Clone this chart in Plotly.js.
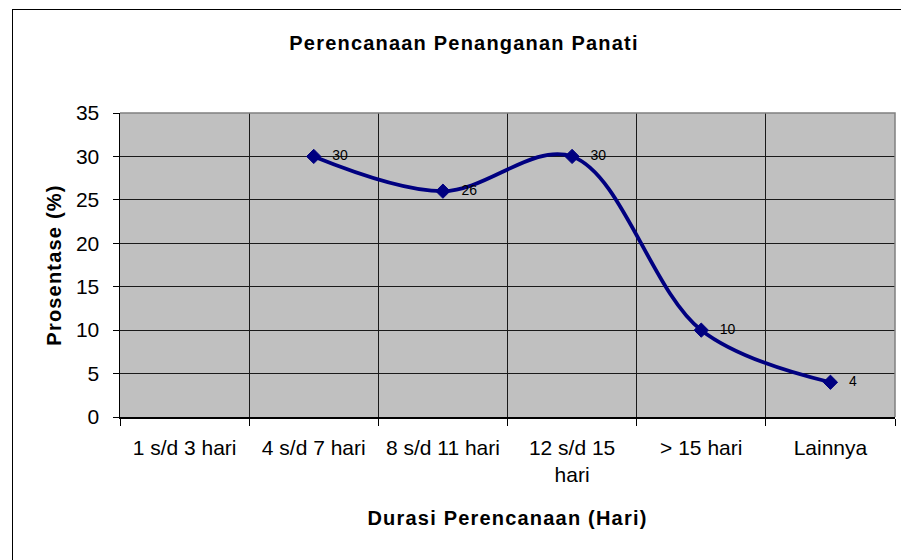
<!DOCTYPE html>
<html>
<head>
<meta charset="utf-8">
<script src="https://cdn.plot.ly/plotly-3.0.1.min.js"></script>
<style>
  html, body { margin: 0; padding: 0; background: #ffffff; }
  #wrap { position: relative; width: 901px; height: 560px; overflow: hidden; background: #ffffff; }
  #frame { position: absolute; left: 12px; top: 9px; width: 1000px; height: 1000px;
           border-top: 1.5px solid #000; border-left: 1.5px solid #000; box-sizing: border-box; }
  #chart { position: absolute; left: 0; top: 0; width: 901px; height: 560px; }
  .gtitle, .xtitle, .ytitle { letter-spacing: 1.2px; }
</style>
</head>
<body>
<div id="wrap">
  <div id="frame"></div>
  <div id="chart"></div>
</div>
<script>
// ---- data ----
const categories = ["1 s/d 3 hari", "4 s/d 7 hari", "8 s/d 11 hari", "12 s/d 15<br>hari", "> 15 hari", "Lainnya"];
const values = [null, 30, 26, 30, 10, 4];
const labels = ["", "30", "26", "30", "10", "4"];
const yTicks = [0, 5, 10, 15, 20, 25, 30, 35];

const chartTitle = "Perencanaan Penanganan Panati";
const xTitle = "Durasi Perencanaan (Hari)";
const yTitle = "Prosentase (%)";

const FONT = "Liberation Sans, Arial, sans-serif";

const lineTrace = {
  type: "scatter",
  mode: "lines+markers",
  x: categories,
  y: values,
  connectgaps: false,
  line: { color: "#000080", width: 3.8, shape: "spline", smoothing: 1 },
  marker: { symbol: "diamond", size: 11, color: "#000080", line: { color: "#000080", width: 1 } },
  hoverinfo: "x+y",
  cliponaxis: false
};

// data labels (same values), drawn to the right of each point
const labelTrace = {
  type: "scatter",
  mode: "markers+text",
  x: categories,
  y: values,
  text: labels,
  textposition: "middle right",
  textfont: { family: FONT, size: 14, color: "#000000" },
  marker: { size: 28, opacity: 0 },
  hoverinfo: "skip",
  cliponaxis: false
};

const layout = {
  width: 901,
  height: 560,
  margin: { l: 120, r: 6, t: 113, b: 143, pad: 0 },
  paper_bgcolor: "rgba(0,0,0,0)",
  plot_bgcolor: "#c0c0c0",
  showlegend: false,
  font: { family: FONT, color: "#000000", size: 21 },
  title: {
    text: chartTitle,
    font: { family: FONT, size: 20, weight: "bold", color: "#000000" },
    xref: "container", x: 0.515, xanchor: "center",
    yref: "container", y: 1 - 43 / 560, yanchor: "middle"
  },
  xaxis: {
    type: "category",
    categoryorder: "array",
    categoryarray: categories,
    range: [-0.5, 5.5],
    tickson: "boundaries",
    ticks: "outside",
    ticklen: 7,
    tickcolor: "#000000",
    tickwidth: 1,
    showgrid: true,
    gridcolor: "#1a1a1a",
    gridwidth: 1,
    showline: true,
    linecolor: "#000000",
    linewidth: 1.5,
    zeroline: false,
    tickfont: { family: FONT, size: 21, color: "#000000" },
    ticklabelstandoff: 11,
    title: { text: xTitle, font: { family: FONT, size: 20, weight: "bold", color: "#000000" }, standoff: 26 },
    fixedrange: true
  },
  yaxis: {
    range: [0, 35],
    tickvals: yTicks,
    ticktext: yTicks.map(String),
    ticks: "outside",
    ticklen: 6,
    tickcolor: "#000000",
    tickwidth: 1,
    showgrid: true,
    gridcolor: "#1a1a1a",
    gridwidth: 1,
    showline: true,
    linecolor: "#000000",
    linewidth: 1.5,
    zeroline: false,
    tickfont: { family: FONT, size: 21, color: "#000000" },
    ticklabelstandoff: 9,
    title: { text: yTitle, font: { family: FONT, size: 20, weight: "bold", color: "#000000" }, standoff: 9 },
    fixedrange: true
  },
  shapes: [
    { type: "path", xref: "paper", yref: "paper", path: "M0,1 L1,1 L1,0",
      line: { color: "#808080", width: 1.5 }, layer: "above" }
  ]
};

Plotly.newPlot("chart", [lineTrace, labelTrace], layout, { displayModeBar: false, staticPlot: true });
</script>
</body>
</html>
